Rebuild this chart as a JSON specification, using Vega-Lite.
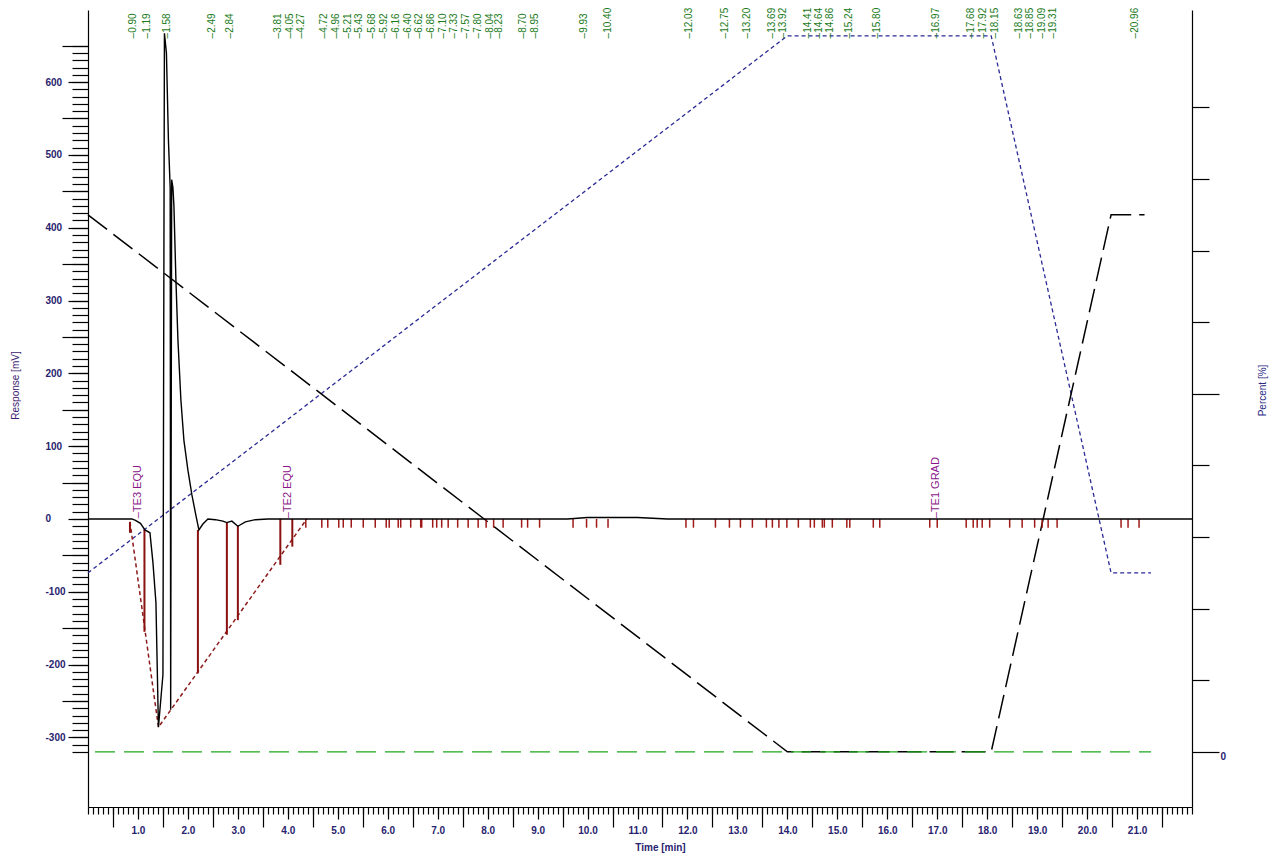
{
  "$schema": "https://vega.github.io/schema/vega-lite/v6.json",
  "width": 1104,
  "height": 797,
  "autosize": {"type": "none"},
  "padding": {"left": 88, "top": 10, "right": 87, "bottom": 50},
  "background": "white",
  "view": {"stroke": null},
  "config": {
    "font": "Liberation Sans",
    "axis": {"domainColor": "black", "tickColor": "black", "grid": false, "labelFont": "Liberation Sans", "titleFont": "Liberation Sans", "domainWidth": 1.2, "tickWidth": 1.2}
  },
  "datasets": {
    "solventA": [
      {"t": 0, "p": 25}, {"t": 14.0, "p": 100}, {"t": 18.08, "p": 100}, {"t": 20.48, "p": 25}, {"t": 21.28, "p": 25}
    ],
    "solventB": [
      {"t": 0, "p": 75}, {"t": 14.0, "p": 0}, {"t": 18.08, "p": 0}, {"t": 20.48, "p": 75}, {"t": 21.15, "p": 75}
    ],
    "solventC": [
      {"t": 0.14, "p": 0}, {"t": 21.28, "p": 0}
    ],
    "signal": [
      {"t": 0, "mv": 0}, {"t": 0.5, "mv": 0}, {"t": 0.88, "mv": 0}, {"t": 0.95, "mv": -2}, {"t": 1.05, "mv": -6},
      {"t": 1.14, "mv": -15}, {"t": 1.24, "mv": -19}, {"t": 1.30, "mv": -60}, {"t": 1.36, "mv": -115}, {"t": 1.41, "mv": -286},
      {"t": 1.50, "mv": -214}, {"t": 1.53, "mv": 667}, {"t": 1.57, "mv": 640}, {"t": 1.61, "mv": 520}, {"t": 1.645, "mv": 455},
      {"t": 1.655, "mv": -262}, {"t": 1.675, "mv": 466}, {"t": 1.70, "mv": 455}, {"t": 1.72, "mv": 430}, {"t": 1.76, "mv": 328},
      {"t": 1.80, "mv": 246}, {"t": 1.86, "mv": 163}, {"t": 1.92, "mv": 108}, {"t": 2.0, "mv": 67}, {"t": 2.08, "mv": 33},
      {"t": 2.16, "mv": 5}, {"t": 2.22, "mv": -15}, {"t": 2.30, "mv": -7}, {"t": 2.40, "mv": 0}, {"t": 2.55, "mv": -1},
      {"t": 2.70, "mv": -3}, {"t": 2.78, "mv": -5}, {"t": 2.88, "mv": -3}, {"t": 3.0, "mv": -10}, {"t": 3.15, "mv": -4},
      {"t": 3.35, "mv": -1}, {"t": 3.6, "mv": 0}, {"t": 9.6, "mv": 0}, {"t": 10.0, "mv": 2}, {"t": 11.0, "mv": 2},
      {"t": 11.6, "mv": 0}, {"t": 22.1, "mv": 0}
    ],
    "baseline": [
      {"t": 0.84, "mv": -4}, {"t": 1.41, "mv": -286}, {"t": 4.38, "mv": 0}
    ],
    "drops": [
      {"t": 0.84, "top": -4, "bottom": -19},
      {"t": 1.13, "top": -15, "bottom": -155},
      {"t": 2.2, "top": -15, "bottom": -212},
      {"t": 2.78, "top": -5, "bottom": -159},
      {"t": 3.0, "top": -9, "bottom": -139},
      {"t": 3.85, "top": 0, "bottom": -63},
      {"t": 4.09, "top": 0, "bottom": -38}
    ],
    "marks": [
      {"t": 4.36}, {"t": 4.68}, {"t": 4.80}, {"t": 5.02}, {"t": 5.11}, {"t": 5.27}, {"t": 5.51}, {"t": 5.75}, {"t": 5.97}, {"t": 6.03},
      {"t": 6.21}, {"t": 6.26}, {"t": 6.46}, {"t": 6.66}, {"t": 6.68}, {"t": 6.90}, {"t": 6.98}, {"t": 7.08}, {"t": 7.21}, {"t": 7.40},
      {"t": 7.61}, {"t": 7.81}, {"t": 7.97}, {"t": 8.12}, {"t": 8.31}, {"t": 8.68}, {"t": 8.80}, {"t": 9.04}, {"t": 9.71}, {"t": 9.98},
      {"t": 10.18}, {"t": 10.41}, {"t": 11.97}, {"t": 12.12}, {"t": 12.56}, {"t": 12.84}, {"t": 13.06}, {"t": 13.30}, {"t": 13.58}, {"t": 13.70},
      {"t": 13.83}, {"t": 13.99}, {"t": 14.22}, {"t": 14.46}, {"t": 14.54}, {"t": 14.70}, {"t": 14.74}, {"t": 14.90}, {"t": 15.19}, {"t": 15.25},
      {"t": 15.72}, {"t": 15.85}, {"t": 16.85}, {"t": 17.0}, {"t": 17.58}, {"t": 17.72}, {"t": 17.8}, {"t": 17.9}, {"t": 18.05}, {"t": 18.45},
      {"t": 18.7}, {"t": 18.95}, {"t": 19.1}, {"t": 19.22}, {"t": 19.4}, {"t": 20.68}, {"t": 20.82}, {"t": 21.04}
    ],
    "peaks": [
      {"t": 0.90, "label": "–0.90"}, {"t": 1.19, "label": "–1.19"}, {"t": 1.58, "label": "–1.58"}, {"t": 2.49, "label": "–2.49"},
      {"t": 2.84, "label": "–2.84"}, {"t": 3.81, "label": "–3.81"}, {"t": 4.05, "label": "–4.05"}, {"t": 4.27, "label": "–4.27"},
      {"t": 4.72, "label": "–4.72"}, {"t": 4.96, "label": "–4.96"}, {"t": 5.21, "label": "–5.21"}, {"t": 5.43, "label": "–5.43"},
      {"t": 5.68, "label": "–5.68"}, {"t": 5.92, "label": "–5.92"}, {"t": 6.16, "label": "–6.16"}, {"t": 6.40, "label": "–6.40"},
      {"t": 6.62, "label": "–6.62"}, {"t": 6.86, "label": "–6.86"}, {"t": 7.10, "label": "–7.10"}, {"t": 7.33, "label": "–7.33"},
      {"t": 7.57, "label": "–7.57"}, {"t": 7.80, "label": "–7.80"}, {"t": 8.04, "label": "–8.04"}, {"t": 8.23, "label": "–8.23"},
      {"t": 8.70, "label": "–8.70"}, {"t": 8.95, "label": "–8.95"}, {"t": 9.93, "label": "–9.93"}, {"t": 10.40, "label": "–10.40"},
      {"t": 12.03, "label": "–12.03"}, {"t": 12.75, "label": "–12.75"}, {"t": 13.20, "label": "–13.20"}, {"t": 13.69, "label": "–13.69"},
      {"t": 13.92, "label": "–13.92"}, {"t": 14.41, "label": "–14.41"}, {"t": 14.64, "label": "–14.64"}, {"t": 14.86, "label": "–14.86"},
      {"t": 15.24, "label": "–15.24"}, {"t": 15.80, "label": "–15.80"}, {"t": 16.97, "label": "–16.97"}, {"t": 17.68, "label": "–17.68"},
      {"t": 17.92, "label": "–17.92"}, {"t": 18.15, "label": "–18.15"}, {"t": 18.63, "label": "–18.63"}, {"t": 18.85, "label": "–18.85"},
      {"t": 19.09, "label": "–19.09"}, {"t": 19.31, "label": "–19.31"}, {"t": 20.96, "label": "–20.96"}
    ],
    "events": [
      {"t": 1.0, "label": "–TE3 EQU"}, {"t": 4.0, "label": "–TE2 EQU"}, {"t": 16.97, "label": "–TE1 GRAD"}
    ]
  },
  "resolve": {"scale": {"y": "independent"}, "axis": {"x": "independent", "y": "independent"}},
  "layer": [
    {
      "data": {"name": "solventA"},
      "mark": {"type": "line", "color": "#2a2a95", "strokeDash": [4, 3], "strokeWidth": 1.3},
      "encoding": {
        "x": {"field": "t", "type": "quantitative", "scale": {"domain": [0, 22.1], "nice": false, "zero": false},
          "axis": {"orient": "bottom", "values": [1,2,3,4,5,6,7,8,9,10,11,12,13,14,15,16,17,18,19,20,21], "format": ".1f",
            "tickSize": 12, "labelPadding": 6, "labelFontSize": 10, "labelFontWeight": "bold", "labelColor": "#28236e",
            "title": "Time [min]", "titleX": 572, "titleY": 40, "titleBaseline": "middle", "titleFontSize": 10, "titleFontWeight": "bold", "titleColor": "#28236e"}},
        "y": {"field": "p", "type": "quantitative", "scale": {"domain": [-7.7, 103.6], "nice": false, "zero": false},
          "axis": {"orient": "right", "values": [10,20,30,40,60,70,80,90], "tickSize": 17, "labels": false,
            "title": "Percent [%]", "titleAngle": 270, "titleX": 70, "titleY": 380, "titleBaseline": "middle", "titleFontSize": 10, "titleFontWeight": "normal", "titleColor": "#2a2a85"}}
      }
    },
    {
      "data": {"name": "solventB"},
      "mark": {"type": "line", "color": "black", "strokeDash": [24, 8], "strokeWidth": 1.5},
      "encoding": {
        "x": {"field": "t", "type": "quantitative", "scale": {"domain": [0, 22.1], "nice": false, "zero": false},
          "axis": {"orient": "bottom", "tickCount": 221, "tickSize": 7, "labels": false, "domain": false, "title": null}},
        "y": {"field": "p", "type": "quantitative", "scale": {"domain": [-7.7, 103.6], "nice": false, "zero": false},
          "axis": {"orient": "right", "values": [0, 50], "tickSize": 27, "labelExpr": "datum.value == 0 ? '0' : ''", "labelPadding": 1,
            "labelFontSize": 10, "labelFontWeight": "bold", "labelColor": "#28236e", "labelBaseline": "top", "domain": false, "title": null}}
      }
    },
    {
      "data": {"name": "solventC"},
      "mark": {"type": "line", "color": "#1fa81f", "strokeDash": [20, 9], "strokeWidth": 1.3},
      "encoding": {
        "x": {"field": "t", "type": "quantitative", "scale": {"domain": [0, 22.1], "nice": false, "zero": false},
          "axis": {"orient": "bottom", "values": [0.5,1.5,2.5,3.5,4.5,5.5,6.5,7.5,8.5,9.5,10.5,11.5,12.5,13.5,14.5,15.5,16.5,17.5,18.5,19.5,20.5,21.5], "tickSize": 20, "labels": false, "domain": false, "title": null}},
        "y": {"field": "p", "type": "quantitative", "scale": {"domain": [-7.7, 103.6], "nice": false, "zero": false}, "axis": null}
      }
    },
    {
      "data": {"name": "baseline"},
      "mark": {"type": "line", "color": "#8b1a1a", "strokeDash": [4, 3], "strokeWidth": 1.5},
      "encoding": {
        "x": {"field": "t", "type": "quantitative", "scale": {"domain": [0, 22.1], "nice": false, "zero": false}, "axis": null},
        "y": {"field": "mv", "type": "quantitative", "scale": {"domain": [-395.6, 699], "nice": false, "zero": false},
          "axis": {"orient": "left", "values": [-250,-150,-50,50,150,250,350,450,550,650], "tickSize": 26, "labels": false, "domain": false, "title": null}}
      }
    },
    {
      "data": {"name": "drops"},
      "mark": {"type": "rule", "color": "#8b1010", "strokeWidth": 2},
      "encoding": {
        "x": {"field": "t", "type": "quantitative", "scale": {"domain": [0, 22.1], "nice": false, "zero": false}, "axis": null},
        "y": {"field": "top", "type": "quantitative", "scale": {"domain": [-395.6, 699], "nice": false, "zero": false},
          "axis": {"orient": "left", "values": [-320,-310,-300,-290,-280,-270,-260,-250,-240,-230,-220,-210,-200,-190,-180,-170,-160,-150,-140,-130,-120,-110,-100,-90,-80,-70,-60,-50,-40,-30,-20,-10,0,10,20,30,40,50,60,70,80,90,100,110,120,130,140,150,160,170,180,190,200,210,220,230,240,250,260,270,280,290,300,310,320,330,340,350,360,370,380,390,400,410,420,430,440,450,460,470,480,490,500,510,520,530,540,550,560,570,580,590,600,610,620,630,640,650], "tickSize": 16, "labels": false, "domain": false, "title": null}},
        "y2": {"field": "bottom"}
      }
    },
    {
      "data": {"name": "marks"},
      "mark": {"type": "rule", "color": "#a01818", "strokeWidth": 1.5},
      "encoding": {
        "x": {"field": "t", "type": "quantitative", "scale": {"domain": [0, 22.1], "nice": false, "zero": false}, "axis": null},
        "y": {"datum": 0, "type": "quantitative", "scale": {"domain": [-395.6, 699], "nice": false, "zero": false}, "axis": null},
        "y2": {"datum": -12}
      }
    },
    {
      "data": {"name": "signal"},
      "mark": {"type": "line", "color": "black", "strokeWidth": 1.4},
      "encoding": {
        "x": {"field": "t", "type": "quantitative", "scale": {"domain": [0, 22.1], "nice": false, "zero": false}, "axis": null},
        "y": {"field": "mv", "type": "quantitative", "scale": {"domain": [-395.6, 699], "nice": false, "zero": false},
          "axis": {"orient": "left", "values": [-300,-200,-100,0,100,200,300,400,500,600], "tickSize": 20, "labelAlign": "left", "labelPadding": 23,
            "labelExpr": "datum.value < 0 ? '-' + abs(datum.value) : '' + datum.value",
            "labelFontSize": 10, "labelFontWeight": "bold", "labelColor": "#28236e",
            "title": "Response [mV]", "titleAngle": 270, "titleX": -73, "titleY": 375, "titleBaseline": "middle", "titleFontSize": 10, "titleFontWeight": "normal", "titleColor": "#3c2270"}}
      }
    },
    {
      "data": {"name": "peaks"},
      "mark": {"type": "text", "angle": 270, "align": "left", "baseline": "middle", "fontSize": 10, "color": "#1a7a1a"},
      "encoding": {
        "x": {"field": "t", "type": "quantitative", "scale": {"domain": [0, 22.1], "nice": false, "zero": false}, "axis": null},
        "y": {"datum": 660, "type": "quantitative", "scale": {"domain": [-395.6, 699], "nice": false, "zero": false}, "axis": null},
        "text": {"field": "label"}
      }
    },
    {
      "data": {"name": "events"},
      "mark": {"type": "text", "angle": 270, "align": "left", "baseline": "middle", "fontSize": 11, "color": "#8b168b"},
      "encoding": {
        "x": {"field": "t", "type": "quantitative", "scale": {"domain": [0, 22.1], "nice": false, "zero": false}, "axis": null},
        "y": {"datum": 1, "type": "quantitative", "scale": {"domain": [-395.6, 699], "nice": false, "zero": false}, "axis": null},
        "text": {"field": "label"}
      }
    }
  ]
}
